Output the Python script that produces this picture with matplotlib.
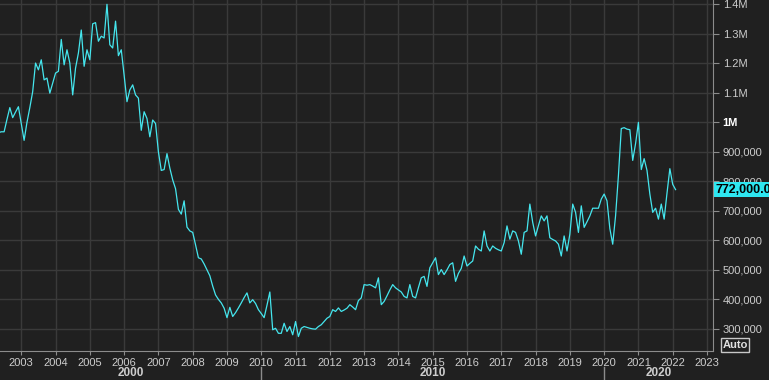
import numpy as np
import pandas as pd
import matplotlib
matplotlib.use("Agg")
import matplotlib.pyplot as plt
import matplotlib.transforms as mtransforms

plt.rcParams['font.family'] = ['Liberation Sans', 'DejaVu Sans']

# monthly new home sales, SAAR, thousands (May 2002 .. Feb 2022)
start = "2002-05-01"
sales = [
    965, 968, 968, 1010, 1050, 1016, 1035, 1053,                      # 2002
    995, 939, 1000, 1050, 1104, 1201, 1178, 1212, 1144, 1150, 1099, 1133,  # 2003
    1167, 1173, 1281, 1195, 1246, 1201, 1093, 1184, 1235, 1313, 1190, 1246,  # 2004
    1212, 1334, 1338, 1275, 1292, 1286, 1400, 1263, 1252, 1343, 1226, 1246,  # 2005
    1160, 1070, 1110, 1127, 1093, 1082, 973, 1036, 1013, 951, 1008, 996,     # 2006
    900, 837, 840, 894, 845, 805, 775, 705, 689, 734, 645, 632,              # 2007
    627, 585, 541, 537, 520, 500, 480, 445, 415, 400, 388, 370,              # 2008
    338, 373, 342, 355, 371, 388, 406, 422, 388, 399, 386, 365,              # 2009
    352, 338, 380, 425, 297, 302, 285, 285, 319, 291, 308, 280,              # 2010
    325, 274, 302, 308, 305, 302, 300, 299, 308, 314, 325, 336,              # 2011
    342, 365, 359, 371, 359, 364, 370, 382, 374, 365, 396, 405,              # 2012
    450, 448, 450, 445, 439, 473, 382, 393, 412, 432, 450, 439,              # 2013
    432, 425, 410, 405, 450, 410, 405, 440, 473, 478, 444, 507,              # 2014
    524, 541, 484, 501, 484, 500, 518, 524, 461, 488, 505, 547,              # 2015
    513, 522, 530, 581, 570, 564, 632, 581, 564, 581, 573, 568,              # 2016
    564, 592, 649, 604, 632, 627, 598, 553, 627, 632, 723, 661,              # 2017
    615, 650, 683, 666, 683, 609, 603, 598, 587, 547, 615, 564,              # 2018
    621, 723, 695, 627, 717, 644, 663, 683, 709, 709, 709, 740,              # 2019
    757, 734, 640, 587, 683, 820, 979, 982, 977, 975, 871, 928,              # 2020
    1000, 840, 877, 837, 757, 695, 709, 672, 723, 672, 760, 843,             # 2021
    790, 772,                                                                 # 2022
]
last_label = "772,000.0"

years = list(range(2003, 2024))
decades = ["2000", "2010", "2020"]
yvals = list(range(300000, 1400001, 100000))

def fmt(v):
    if v >= 1000000:
        s = "%.1fM" % (v / 1e6)
        return s.replace(".0M", "M")
    return "{:,}".format(v)

dates = pd.date_range(start, periods=len(sales), freq="MS")
xs = dates.year + (dates.month - 1) / 12.0
ys = np.array(sales) * 1000

bg = "#202020"
txt = "#cdcdcd"
axc = "#8c8c8c"

fig = plt.figure(figsize=(7.69, 3.80), dpi=100, facecolor=bg)
ax = fig.add_axes([0, 29/380, 713/769, 351/380], facecolor=bg)

ax.plot(xs, ys, color="#45e6ee", lw=0.9)

x0, x1 = 2002.38, 2023.175
ax.set_xlim(x0, x1)
ax.set_ylim(225000, 1414700)

ax.set_xticks(years)
ax.set_xticklabels([str(y) for y in years])
ax.set_yticks(yvals)
ax.set_yticklabels([fmt(v) for v in yvals])
ax.yaxis.tick_right()

ax.tick_params(axis="x", colors=axc, labelcolor=txt, labelsize=8, length=3, pad=2)
ax.tick_params(axis="y", colors=axc, labelcolor=txt, labelsize=8, length=4, pad=3)
for lab in ax.get_yticklabels():
    if lab.get_text() == "1M":
        lab.set_fontweight("bold")
        lab.set_color("white")

ax.grid(color="#3a3a3a", lw=1)
for s in ["top", "left"]:
    ax.spines[s].set_visible(False)
for s in ["right", "bottom"]:
    ax.spines[s].set_color(axc)

# decade row under the years
tr = mtransforms.blended_transform_factory(ax.transData, fig.transFigure)
bounds = [x0, 2010, 2020, x1]
for i, d in enumerate(decades):
    ax.text((bounds[i] + bounds[i + 1]) / 2, 1 - 373/380, d, transform=tr,
            ha="center", va="center", fontsize=8.5, fontweight="bold", color=txt)
for b in bounds[1:3]:
    ax.plot([b, b], [0, 1 - 367/380], transform=tr, color=axc, lw=1, clip_on=False)

# last value flag
trv = mtransforms.blended_transform_factory(ax.transAxes, ax.transData)
ax.text(1.003, sales[-1] * 1000, last_label, transform=trv, ha="left", va="center",
        fontsize=9, fontweight="bold", color="black", clip_on=False,
        bbox=dict(boxstyle="square,pad=0.1", facecolor="#2ee6f0", edgecolor="none"))

fig.text(735/769, 1 - 345/380, "Auto", ha="center", va="center", fontsize=8,
         fontweight="bold", color="#e0e0e0",
         bbox=dict(boxstyle="square,pad=0.15", facecolor="none", edgecolor="#c8c8c8", lw=1))

fig.savefig("out.png", dpi=100, facecolor=bg)
